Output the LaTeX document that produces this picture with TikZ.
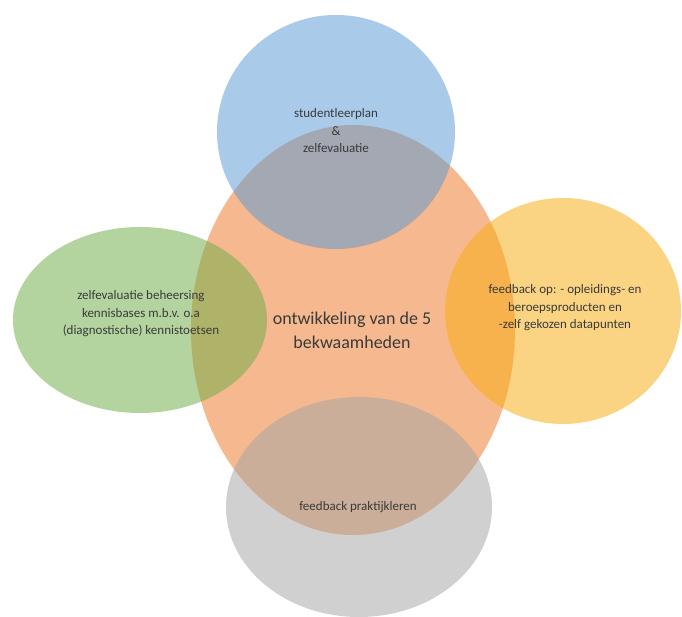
\documentclass[tikz,border=0pt]{standalone}
\usepackage{fontspec}
\setmainfont{Carlito}
\usetikzlibrary{shapes.geometric}
\definecolor{corange}{HTML}{ED7D31}
\definecolor{cblue}{HTML}{5B9BD5}
\definecolor{cgreen}{HTML}{70AD47}
\definecolor{cyellow}{HTML}{F9AE12}
\definecolor{cgray}{HTML}{A5A5A5}
\definecolor{ctext}{HTML}{3A3A3A}
\tikzset{
  blob/.style={ellipse, draw=none, inner sep=0pt, fill opacity=0.52},
  lbl/.style={align=center, text=ctext, font=\fontsize{13}{17.5}\selectfont, inner sep=0pt},
  mainlbl/.style={align=center, text=ctext, font=\fontsize{18}{24}\selectfont, inner sep=0pt}
}
\begin{document}
\begin{tikzpicture}[x=1pt,y=1pt]
\useasboundingbox (0,0) rectangle (682,617);
\fill[white] (0,0) rectangle (682,617);
% central ellipse
\node[blob, fill=corange, fill opacity=0.54, minimum width=324pt, minimum height=410pt] (core) at (353,287) {};
% satellites
\node[blob, fill=cblue, minimum width=238pt, minimum height=234pt] (top) at (336,485) {};
\node[blob, fill=cgreen, minimum width=254pt, minimum height=186pt] (left) at (140,297) {};
\node[blob, fill=cyellow, minimum width=236pt, minimum height=226pt] (right) at (563,306) {};
\node[blob, fill=cgray, minimum width=266pt, minimum height=220pt] (bottom) at (359,110) {};
% labels
\node[mainlbl] (coretext) at (352,287) {ontwikkeling van de 5\\bekwaamheden};
\node[lbl] (toptext) at (336,486) {studentleerplan\\\&\\zelfevaluatie};
\node[lbl] (lefttext) at (141,303) {zelfevaluatie beheersing\\kennisbases m.b.v. o.a\\(diagnostische) kennistoetsen};
\node[lbl] (righttext) at (565,309) {feedback op: - opleidings- en\\beroepsproducten en\\-zelf gekozen datapunten};
\node[lbl] (bottomtext) at (358,110) {feedback praktijkleren};
\end{tikzpicture}
\end{document}
